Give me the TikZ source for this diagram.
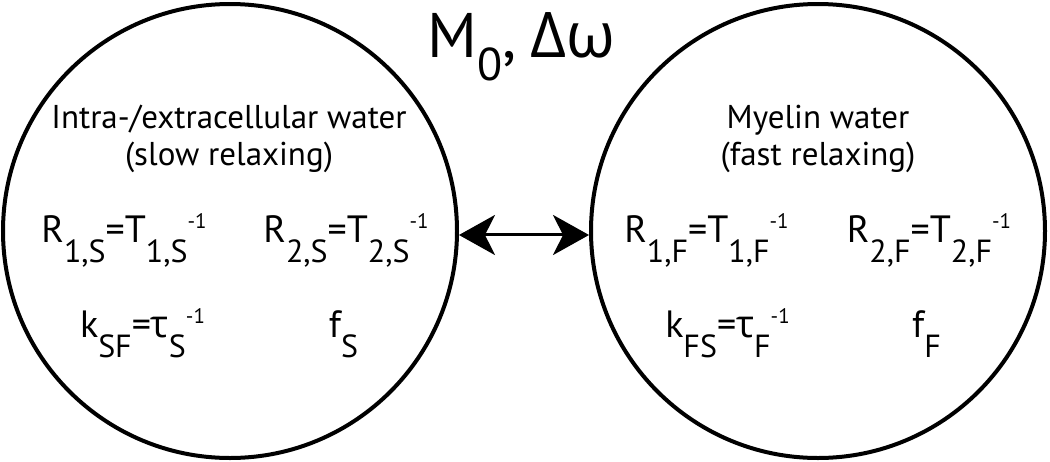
\documentclass[tikz,border=0pt]{standalone}
\usepackage{fontspec}
\setmainfont{PT Sans}
\newfontfamily\grk{Open Sans}
\usetikzlibrary{arrows.meta}
\newcommand{\lo}[1]{\raisebox{-20pt}{\fontsize{32}{32}\selectfont #1}}
\newcommand{\hi}[1]{\raisebox{14pt}{\fontsize{21}{21}\selectfont #1}}

\begin{document}
\begin{tikzpicture}[x=1pt,y=-1pt,
    pool/.style={draw,circle,line width=4pt,minimum size=454pt,inner sep=0pt},
    eqn/.style={anchor=base,inner sep=0pt,font=\fontsize{38}{40}\selectfont},
    lbl/.style={anchor=base,inner sep=0pt,font=\fontsize{33}{35}\selectfont}]
        \useasboundingbox (0,0) rectangle (1050,461);
        \node[pool] (slow) at (230,231) {};
        \node[pool] (fast) at (818,231) {};
        \draw[line width=3pt,{Stealth[length=36pt,width=40pt,inset=10pt]}-{Stealth[length=36pt,width=40pt,inset=10pt]}] (slow.-1.5)--(fast.181.5);
        \node[anchor=base,inner sep=0pt,font=\fontsize{63}{65}\selectfont] (title) at (521.5,57) {M\raisebox{-23pt}{\fontsize{46}{46}\selectfont 0},\hspace{14pt}{\grk Δω}};
        \node[lbl] (slowname) at (229,128) {Intra-/extracellular water};
        \node[lbl] (slowkind) at (229,165) {(slow relaxing)};
        \node[eqn] (slowra) at (124,242) {R\lo{1,S}=T\lo{1,S}\hi{-1}};
        \node[eqn] (slowrb) at (346,242) {R\lo{2,S}=T\lo{2,S}\hi{-1}};
        \node[eqn] (slowk) at (142.5,337) {k\lo{SF}={\grk τ}\lo{S}\hi{-1}};
        \node[eqn] (slowf) at (343.5,337) {f\lo{S}};
        \node[lbl] (fastname) at (818,128) {Myelin water};
        \node[lbl] (fastkind) at (818,165) {(fast relaxing)};
        \node[eqn] (fastra) at (706.5,242) {R\lo{1,F}=T\lo{1,F}\hi{-1}};
        \node[eqn] (fastrb) at (929,242) {R\lo{2,F}=T\lo{2,F}\hi{-1}};
        \node[eqn] (fastk) at (727.5,337) {k\lo{FS}={\grk τ}\lo{F}\hi{-1}};
        \node[eqn] (fastf) at (926.5,337) {f\lo{F}};
    \end{tikzpicture}
\end{document}
